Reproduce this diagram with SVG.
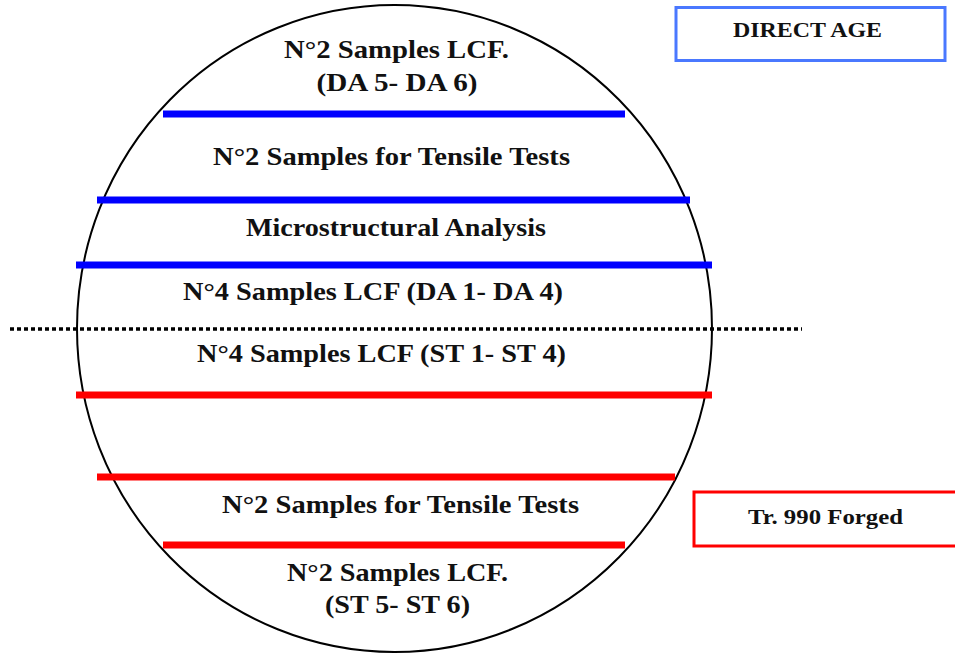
<svg xmlns="http://www.w3.org/2000/svg" width="955" height="655" viewBox="0 0 955 655">
<style>
.t{font-family:"Liberation Serif","Times New Roman",serif;font-weight:bold;fill:#111;text-anchor:middle}
.m{font-size:26px}
.b{stroke:#0000ff;stroke-width:7}
.r{stroke:#ff0000;stroke-width:7}
</style>
<rect width="955" height="655" fill="#fff"/>
<g id="circle"><ellipse cx="394.5" cy="328.5" rx="317.5" ry="323.5" fill="none" stroke="#000" stroke-width="2"/></g>
<g id="connectors">
<line class="b" x1="163" y1="114" x2="625" y2="114"/>
<line class="b" x1="97" y1="200" x2="690" y2="200"/>
<line class="b" x1="76" y1="265" x2="712" y2="265"/>
<line x1="10" y1="329" x2="802" y2="329" stroke="#000" stroke-width="3.5" stroke-dasharray="4 3"/>
<line class="r" x1="76" y1="395" x2="712" y2="395"/>
<line class="r" x1="97" y1="477" x2="675" y2="477"/>
<line class="r" x1="163" y1="545" x2="625" y2="545"/>
</g>
<g id="sec1"><text class="t m" x="396.5" y="58" textLength="225" lengthAdjust="spacingAndGlyphs">N°2 Samples LCF.</text><text class="t m" x="397" y="91" textLength="161" lengthAdjust="spacingAndGlyphs">(DA 5- DA 6)</text></g>
<g id="sec2"><text class="t m" x="391.5" y="165" textLength="357" lengthAdjust="spacingAndGlyphs">N°2 Samples for Tensile Tests</text></g>
<g id="sec3"><text class="t m" x="396" y="236" textLength="300" lengthAdjust="spacingAndGlyphs">Microstructural Analysis</text></g>
<g id="sec4"><text class="t m" x="373" y="300" textLength="380" lengthAdjust="spacingAndGlyphs">N°4 Samples LCF (DA 1- DA 4)</text></g>
<g id="sec5"><text class="t m" x="381.5" y="362" textLength="369" lengthAdjust="spacingAndGlyphs">N°4 Samples LCF (ST 1- ST 4)</text></g>
<g id="sec6"><text class="t m" x="400.5" y="513" textLength="357" lengthAdjust="spacingAndGlyphs">N°2 Samples for Tensile Tests</text></g>
<g id="sec7"><text class="t m" x="397.5" y="581" textLength="221" lengthAdjust="spacingAndGlyphs">N°2 Samples LCF.</text><text class="t m" x="397.5" y="613" textLength="145" lengthAdjust="spacingAndGlyphs">(ST 5- ST 6)</text></g>
<g id="directAge"><rect x="676" y="7.5" width="269" height="53" fill="#fff" stroke="#4a78ff" stroke-width="3"/><text class="t" x="807.5" y="37" font-size="22" textLength="149" lengthAdjust="spacingAndGlyphs">DIRECT AGE</text></g>
<g id="forged"><rect x="694" y="492" width="266" height="54" fill="#fff" stroke="#ff0000" stroke-width="3"/><text class="t" x="825.5" y="524" font-size="22" textLength="155" lengthAdjust="spacingAndGlyphs">Tr. 990 Forged</text></g>
</svg>
